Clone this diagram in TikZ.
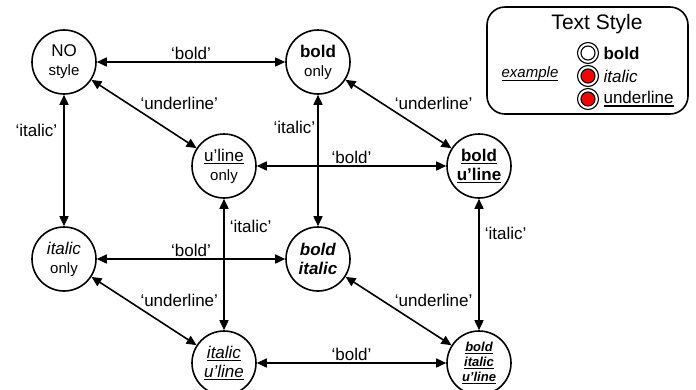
\documentclass[tikz,border=0pt]{standalone}
\usepackage{fontspec}
\setmainfont{Liberation Sans}
\usetikzlibrary{arrows.meta, positioning}

\newsavebox\ulbox
\newcommand\uln[2][1.5pt]{\sbox\ulbox{#2}\rlap{\rule[-3pt]{\wd\ulbox}{#1}}\usebox\ulbox}
\newcommand\lsmall{\fontsize{15}{17}\selectfont}

\begin{document}
\begin{tikzpicture}[x=1pt, y=-1pt,
  every node/.style={font=\fontsize{17}{19}\selectfont},
  state/.style={circle, draw, line width=1.6pt, minimum size=64pt,
                inner sep=0pt, align=center, fill=white},
  arr/.style={{Triangle[length=10pt,width=9pt]}-{Triangle[length=10pt,width=9pt]},
              line width=1.6pt},
  lbl/.style={inner sep=2pt},
  ulbl/.style={lbl, pos=0.44, anchor=south west, yshift=-3pt},
  ring/.style={circle, draw, line width=1.1pt, minimum size=21pt,
               inner sep=0pt, fill=white},
  dot/.style={circle, draw, line width=1.1pt, minimum size=14pt, inner sep=0pt}
]
\useasboundingbox (0,0) rectangle (696,389);

%% front face
\node[state] (none) at (64,62)  {NO\\{\lsmall style}};
\node[state] (b)    at (318,62) {\textbf{bold}\\{\lsmall only}};
\node[state] (i)    at (64,259) {\textit{italic}\\{\lsmall only}};
\node[state] (bi)   at (318,259) {\textbf{\textit{bold}}\\\textbf{\textit{italic}}};

%% back face
\node[state] (u)    at (224,166) {\uln{u’line}\\{\lsmall only}};
\node[state] (bu)   at (479,166) {\textbf{\uln{bold}}\\\textbf{\uln{u’line}}};
\node[state] (iu)   at (224,363) {\textit{\uln{italic}}\\\textit{\uln{u’line}}};
\node[state, font=\fontsize{13}{15}\selectfont] (biu) at (479,363)
  {\textbf{\textit{\uln[1.2pt]{bold}}}\\\textbf{\textit{\uln[1.2pt]{italic}}}\\%
   \textbf{\textit{\uln[1.2pt]{u’line}}}};

%% transitions
\draw[arr] (none) -- node[lbl, above] {‘bold’} (b);
\draw[arr] (none) -- node[lbl, pos=0.27, left, xshift=-4pt] {‘italic’} (i);
\draw[arr] (none) -- node[ulbl] {‘underline’} (u);
\draw[arr] (b) -- node[lbl, pos=0.25, left] {‘italic’} (bi);
\draw[arr] (b) -- node[ulbl] {‘underline’} (bu);
\draw[arr] (u) -- node[lbl, above] {‘bold’} (bu);
\draw[arr] (u) -- node[lbl, pos=0.21, right, xshift=3pt] {‘italic’} (iu);
\draw[arr] (bu) -- node[lbl, pos=0.26, right, xshift=3pt] {‘italic’} (biu);
\draw[arr] (i) -- node[lbl, above] {‘bold’} (bi);
\draw[arr] (i) -- node[ulbl] {‘underline’} (iu);
\draw[arr] (bi) -- node[ulbl] {‘underline’} (biu);
\draw[arr] (iu) -- node[lbl, above] {‘bold’} (biu);

%% legend
\node[draw, line width=1.6pt, rounded corners=18pt, minimum width=201pt,
      minimum height=107pt] (legend) at (587.5,60.5) {};
\node[font=\fontsize{21}{24}\selectfont] (ttl) at (597,24) {Text Style};
\node[font=\fontsize{15}{17}\selectfont] (ex) at (530,74)
  {\textit{\uln[1.2pt]{example}}};

\node[ring] (kb) at (588,53) {};
\node[dot, fill=white] (kbin) at (kb) {};
\node[right=1pt of kb] (tb) {\textbf{bold}};

\node[ring] (ki) at (588,76) {};
\node[dot, fill=red] (kiin) at (ki) {};
\node[right=1pt of ki] (ti) {\textit{italic}};

\node[ring] (ku) at (588,99) {};
\node[dot, fill=red] (kuin) at (ku) {};
\node[right=1pt of ku] (tu) {\uln{underline}};

\end{tikzpicture}
\end{document}
